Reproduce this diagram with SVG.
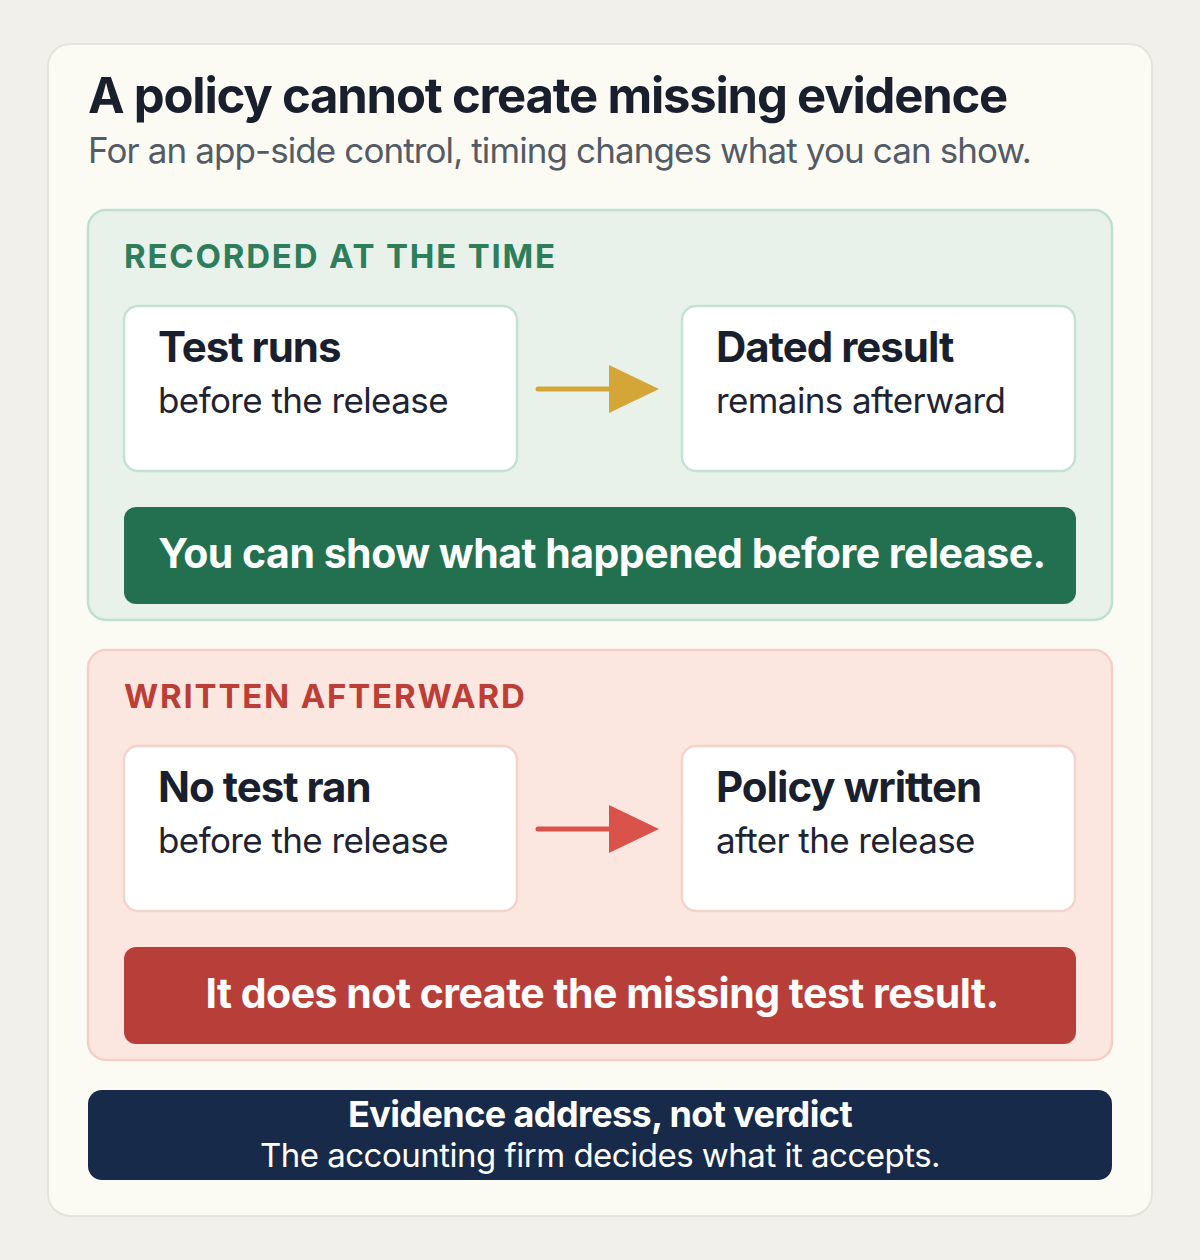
<svg xmlns="http://www.w3.org/2000/svg" width="1200" height="1260" viewBox="0 0 1200 1260">
<style>
text{font-family:Inter,"Noto Sans",sans-serif}
.h{font-size:42px;font-weight:700;fill:#1a1f2e;letter-spacing:-1px}
.s{font-size:35px;fill:#1f2433;letter-spacing:-0.6px}
.lab{font-size:33px;font-weight:700;letter-spacing:1.8px}
.card{fill:#fff;stroke-width:2.5}
.ban{font-size:41px;font-weight:700;fill:#fff;letter-spacing:-0.5px}
</style>
<defs>
<marker id="ay" viewBox="0 0 10 10" refX="0" refY="5" markerWidth="50" markerHeight="48" markerUnits="userSpaceOnUse" orient="auto" preserveAspectRatio="none"><path d="M0,0L10,5L0,10z" fill="#d4a537"/></marker>
<marker id="ar" viewBox="0 0 10 10" refX="0" refY="5" markerWidth="50" markerHeight="48" markerUnits="userSpaceOnUse" orient="auto" preserveAspectRatio="none"><path d="M0,0L10,5L0,10z" fill="#d9534a"/></marker>
</defs>
<rect width="1200" height="1260" fill="#f1f0eb"/>
<rect x="48" y="44" width="1104" height="1172" rx="22" fill="#fbfbf4" stroke="#e5e4dc" stroke-width="2"/>
<text x="88" y="113" font-size="49" font-weight="700" fill="#1a1f2e" letter-spacing="-1.2">A policy cannot create missing evidence</text>
<text x="88" y="163" font-size="35" fill="#555b66" letter-spacing="-0.9">For an app-side control, timing changes what you can show.</text>
<g id="recorded">
<rect x="88" y="210" width="1024" height="410" rx="18" fill="#e8f2ea" stroke="#bfe0cf" stroke-width="2.5"/>
<text x="124" y="268" class="lab" fill="#2e7d5b">RECORDED AT THE TIME</text>
</g>
<g id="test-runs"><rect class="card" x="124" y="306" width="393" height="165" rx="14" stroke="#c4e2d4"/>
<text x="158" y="362" class="h">Test runs</text><text x="158" y="413" class="s">before the release</text></g>
<g id="dated-result"><rect class="card" x="682" y="306" width="393" height="165" rx="14" stroke="#c4e2d4"/>
<text x="716" y="362" class="h">Dated result</text><text x="716" y="413" class="s">remains afterward</text></g>
<g id="show-banner"><rect x="124" y="507" width="952" height="97" rx="12" fill="#22704f"/>
<text x="602" y="568" text-anchor="middle" class="ban">You can show what happened before release.</text></g>
<g id="written">
<rect x="88" y="650" width="1024" height="410" rx="18" fill="#fbe7df" stroke="#f4cfc6" stroke-width="2.5"/>
<text x="124" y="708" class="lab" fill="#bd3e36">WRITTEN AFTERWARD</text>
</g>
<g id="no-test"><rect class="card" x="124" y="746" width="393" height="165" rx="14" stroke="#f3d3cb"/>
<text x="158" y="802" class="h">No test ran</text><text x="158" y="853" class="s">before the release</text></g>
<g id="policy-written"><rect class="card" x="682" y="746" width="393" height="165" rx="14" stroke="#f3d3cb"/>
<text x="716" y="802" class="h">Policy written</text><text x="716" y="853" class="s">after the release</text></g>
<g id="not-banner"><rect x="124" y="947" width="952" height="97" rx="12" fill="#b83e39"/>
<text x="602" y="1008" text-anchor="middle" class="ban">It does not create the missing test result.</text></g>
<g id="footer"><rect x="88" y="1090" width="1024" height="90" rx="14" fill="#172a4a"/>
<text x="600" y="1127" text-anchor="middle" font-size="36" font-weight="700" fill="#fff" letter-spacing="-0.6">Evidence address, not verdict</text>
<text x="600" y="1167" text-anchor="middle" font-size="33" fill="#fff" letter-spacing="-0.5">The accounting firm decides what it accepts.</text></g>
<g id="connectors">
<line x1="538" y1="389" x2="609" y2="389" stroke="#d4a537" stroke-width="5" stroke-linecap="round" marker-end="url(#ay)"/>
<line x1="538" y1="829" x2="609" y2="829" stroke="#d9534a" stroke-width="5" stroke-linecap="round" marker-end="url(#ar)"/>
</g>
</svg>
